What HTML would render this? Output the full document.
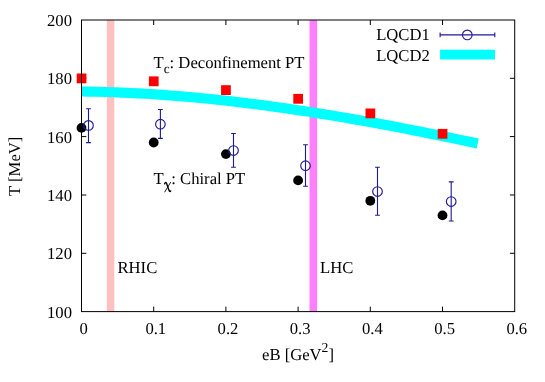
<!DOCTYPE html>
<html><head><meta charset="utf-8"><title>plot</title>
<style>
html,body{margin:0;padding:0;background:#fff;}
body{width:545px;height:382px;overflow:hidden;}
svg{display:block;will-change:transform;}
text{font-family:"Liberation Serif",serif;fill:#000;text-rendering:geometricPrecision;}
</style></head><body>
<svg width="545" height="382" viewBox="0 0 545 382">
<rect x="0" y="0" width="545" height="382" fill="#fff"/>
<rect x="106.8" y="20.0" width="7.5" height="291.6" fill="#ffc0c0"/>
<rect x="309.5" y="20.0" width="7.65" height="291.6" fill="#ff80ff"/>
<g stroke="#000" stroke-width="1" fill="none">
<path d="M153.7 311.6v-5M153.7 20.0v5"/>
<path d="M225.9 311.6v-5M225.9 20.0v5"/>
<path d="M298.1 311.6v-5M298.1 20.0v5"/>
<path d="M370.3 311.6v-5M370.3 20.0v5"/>
<path d="M442.5 311.6v-5M442.5 20.0v5"/>
<path d="M81.5 253.3h4.8M514.7 253.3h-4.8"/>
<path d="M81.5 195.0h4.8M514.7 195.0h-4.8"/>
<path d="M81.5 136.6h4.8M514.7 136.6h-4.8"/>
<path d="M81.5 78.3h4.8M514.7 78.3h-4.8"/>
</g>
<polyline points="81.5,91.54 89.6,91.65 97.7,91.81 105.8,92.03 113.8,92.29 121.9,92.61 130.0,92.97 138.1,93.38 146.2,93.83 154.3,94.33 162.4,94.88 170.4,95.47 178.5,96.11 186.6,96.79 194.7,97.51 202.8,98.27 210.9,99.08 219.0,99.92 227.0,100.80 235.1,101.72 243.2,102.68 251.3,103.68 259.4,104.71 267.5,105.78 275.6,106.88 283.6,108.02 291.7,109.19 299.8,110.39 307.9,111.63 316.0,112.89 324.1,114.19 332.2,115.51 340.2,116.87 348.3,118.25 356.4,119.66 364.5,121.09 372.6,122.55 380.7,124.04 388.8,125.55 396.8,127.08 404.9,128.64 413.0,130.21 421.1,131.81 429.2,133.43 437.3,135.07 445.4,136.73 453.4,138.40 461.5,140.10 469.6,141.81 477.7,143.53" fill="none" stroke="#00ffff" stroke-width="10.1" stroke-linejoin="round"/>
<text x="72.0" y="317.6" font-size="16.65" text-anchor="end">100</text>
<text x="72.0" y="259.3" font-size="16.65" text-anchor="end">120</text>
<text x="72.0" y="201.0" font-size="16.65" text-anchor="end">140</text>
<text x="72.0" y="142.6" font-size="16.65" text-anchor="end">160</text>
<text x="72.0" y="84.3" font-size="16.65" text-anchor="end">180</text>
<text x="72.0" y="26.0" font-size="16.65" text-anchor="end">200</text>
<text x="83.6" y="333.8" font-size="16.65" text-anchor="middle">0</text>
<text x="155.8" y="333.8" font-size="16.65" text-anchor="middle">0.1</text>
<text x="228.0" y="333.8" font-size="16.65" text-anchor="middle">0.2</text>
<text x="300.2" y="333.8" font-size="16.65" text-anchor="middle">0.3</text>
<text x="372.4" y="333.8" font-size="16.65" text-anchor="middle">0.4</text>
<text x="444.6" y="333.8" font-size="16.65" text-anchor="middle">0.5</text>
<text x="516.8" y="333.8" font-size="16.65" text-anchor="middle">0.6</text>
<text transform="translate(20.2,166.3) rotate(-90)" font-size="16.65" text-anchor="middle">T [MeV]</text>
<text x="298" y="359.7" font-size="16.65" text-anchor="middle">eB [GeV<tspan font-size="13.7" dy="-8.1">2</tspan><tspan dy="8.1">]</tspan></text>
<text x="153.5" y="68.1" font-size="16.65">T<tspan font-size="13.3" dy="4.8">c</tspan><tspan dy="-4.8">: Deconfinement PT</tspan></text>
<text x="153.6" y="184.4" font-size="16.65">T</text>
<g fill="none" stroke="#000" stroke-linecap="round"><path d="M164.6 183.9C164.8 182.5 165.9 182.1 166.5 183.3L169.1 190.5C169.5 191.6 170.3 191.7 170.7 190.9" stroke-width="1.4"/><path d="M170.6 182.4L164.8 191.9" stroke-width="0.9"/></g>
<text x="171.3" y="184.4" font-size="16.65">: Chiral PT</text>
<text x="117.5" y="273" font-size="16.65">RHIC</text>
<text x="320" y="273" font-size="16.65">LHC</text>
<text x="429.8" y="40.4" font-size="16.65" text-anchor="end">LQCD1</text>
<text x="429.8" y="61" font-size="16.65" text-anchor="end">LQCD2</text>
<rect x="440.1" y="49.7" width="54.9" height="9.8" fill="#00ffff"/>
<g stroke="#1e1a96" stroke-width="1.1" fill="none">
<path d="M440.1 34.9H494.8M440.1 32.5v4.8M494.8 32.5v4.8"/>
<circle cx="467.3" cy="34.9" r="4.8"/>
<path d="M88.5 108.7V142.6M86.1 108.7h4.8M86.1 142.6h4.8"/>
<path d="M160.4 109.5V138.4M158.0 109.5h4.8M158.0 138.4h4.8"/>
<path d="M233.5 133.5V167.2M231.1 133.5h4.8M231.1 167.2h4.8"/>
<path d="M305.5 144.7V186.3M303.1 144.7h4.8M303.1 186.3h4.8"/>
<path d="M377.5 167.3V215.3M375.1 167.3h4.8M375.1 215.3h4.8"/>
<path d="M451.2 181.9V221.0M448.8 181.9h4.8M448.8 221.0h4.8"/>
</g>
<rect x="76.7" y="73.5" width="9.7" height="9.8" fill="#ff0000"/>
<rect x="148.9" y="76.4" width="9.7" height="9.8" fill="#ff0000"/>
<rect x="221.1" y="85.2" width="9.7" height="9.8" fill="#ff0000"/>
<rect x="293.3" y="93.9" width="9.7" height="9.8" fill="#ff0000"/>
<rect x="365.5" y="108.5" width="9.7" height="9.8" fill="#ff0000"/>
<rect x="437.7" y="128.9" width="9.7" height="9.8" fill="#ff0000"/>
<circle cx="81.5" cy="127.9" r="4.9" fill="#000"/>
<circle cx="153.7" cy="142.5" r="4.9" fill="#000"/>
<circle cx="225.9" cy="154.1" r="4.9" fill="#000"/>
<circle cx="298.1" cy="180.4" r="4.9" fill="#000"/>
<circle cx="370.3" cy="200.8" r="4.9" fill="#000"/>
<circle cx="442.5" cy="215.4" r="4.9" fill="#000"/>
<g stroke="#1e1a96" stroke-width="1.15" fill="none">
<circle cx="88.5" cy="125.4" r="4.8"/>
<circle cx="160.4" cy="124.2" r="4.8"/>
<circle cx="233.5" cy="150.5" r="4.8"/>
<circle cx="305.5" cy="165.7" r="4.8"/>
<circle cx="377.5" cy="191.5" r="4.8"/>
<circle cx="451.2" cy="201.5" r="4.8"/>
</g>
<rect x="81.5" y="20.0" width="433.2" height="291.6" fill="none" stroke="#000" stroke-width="1"/>
</svg>
</body></html>
